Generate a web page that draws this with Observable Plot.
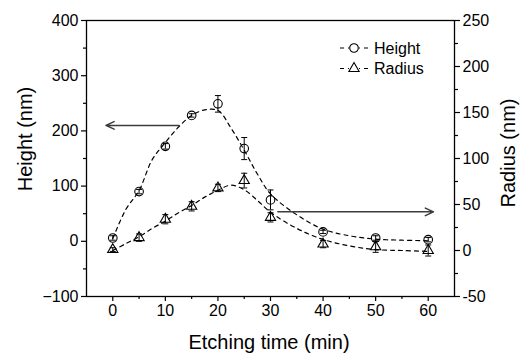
<!DOCTYPE html>
<html><head><meta charset="utf-8">
<script src="https://cdn.jsdelivr.net/npm/d3@7"></script>
<script src="https://cdn.jsdelivr.net/npm/@observablehq/plot@0.6"></script>
<style>
body{margin:0;background:#fff;}
#chart{position:relative;width:520px;height:355px;}
</style></head><body><div id="chart"></div>
<script>
// ---- data ----
const time = [0, 5, 10, 15, 20, 25, 30, 40, 50, 60];
const height = [6, 90, 172, 228, 249, 168, 75, 17, 6, 3];
const heightErr = [4, 4, 5, 3, 15, 20, 18, 3, 4, 4];
const radius = [1, 14, 34, 48, 68, 76, 36, 7, 4, 0];
const radiusErr = [2, 4, 5, 5, 4, 8, 5, 4, 6, 6];

const fitTime = [0, 2.5, 5, 7.5, 10, 12.5, 15, 17.5, 20, 22.5, 25, 27.5, 30, 35, 40, 45, 50, 55, 60];
const heightFit = [5, 58, 92, 148, 179, 207, 228, 238, 237, 205, 165, 122, 86, 48, 22, 10, 4, 2, 1];
const radiusFit = [0, 7.5, 15, 24, 32, 41, 49, 58, 65.5, 71, 66, 54.5, 41.6, 24, 12, 5, 1, 0, -1];

const xTicks = [0, 10, 20, 30, 40, 50, 60];
const xMinor = [5, 15, 25, 35, 45, 55];
const hTicks = [-100, 0, 100, 200, 300, 400];
const hMinor = [-50, 50, 150, 250, 350];
const rTicks = [-50, 0, 50, 100, 150, 200, 250];
const rMinor = [-25, 25, 75, 125, 175, 225];

// arrows: [x from, x to, value] (left arrow on Height axis, right arrow on Radius axis)
const arrowHeight = {x1: 12.6, x2: -1.3, value: 210};
const arrowRadius = {x1: 31.4, x2: 61, value: 42};

const legendLabels = ["Height", "Radius"];
const xLabel = "Etching time (min)";
const yLabel = "Height (nm)";
const y2Label = "Radius (nm)";

// ---- scale mapping for the secondary axis ----
const H0 = -100, H1 = 400, R0 = -50, R1 = 250;
const toH = r => H0 + (r - R0) * (H1 - H0) / (R1 - R0);
const fromH = h => Math.round(R0 + (h - H0) * (R1 - R0) / (H1 - H0));

const hPts = time.map((t, i) => ({t, v: height[i], lo: height[i] - heightErr[i], hi: height[i] + heightErr[i]}));
const rPts = time.map((t, i) => ({t, v: toH(radius[i]), lo: toH(radius[i] - radiusErr[i]), hi: toH(radius[i] + radiusErr[i])}));
const hFit = fitTime.map((t, i) => ({t, v: heightFit[i]}));
const rFit = fitTime.map((t, i) => ({t, v: toH(radiusFit[i])}));
const arrows = [
  {x1: arrowHeight.x1, x2: arrowHeight.x2, y: arrowHeight.value},
  {x1: arrowRadius.x1, x2: arrowRadius.x2, y: toH(arrowRadius.value)}
];

const cap = {draw(ctx, size) { const w = Math.sqrt(size / Math.PI); ctx.moveTo(-w, 0); ctx.lineTo(w, 0); }};

const font = "'Liberation Sans', Arial, Helvetica, sans-serif";
const dash = "4,4";

const plot = Plot.plot({
  width: 520, height: 355,
  marginTop: 20, marginRight: 66, marginBottom: 59, marginLeft: 86,
  style: {fontFamily: font, fontSize: "16px", background: "white", color: "black"},
  x: {domain: [-5, 65]},
  y: {domain: [H0, H1]},
  marks: [
    Plot.axisX({ticks: xTicks, tickSize: 5, tickPadding: 3, label: null, fontSize: 16, strokeWidth: 1.2}),
    Plot.axisX({ticks: xMinor, tickSize: 3, tickFormat: () => "", label: null, strokeWidth: 1.2}),
    Plot.axisY({ticks: hTicks, tickSize: 5, tickPadding: 3, label: null, fontSize: 16, strokeWidth: 1.2}),
    Plot.axisY({ticks: hMinor, tickSize: 3, tickFormat: () => "", label: null, strokeWidth: 1.2}),
    Plot.axisY({anchor: "right", ticks: rTicks.map(toH), tickFormat: fromH, tickSize: 5, tickPadding: 3, label: null, fontSize: 16, strokeWidth: 1.2}),
    Plot.axisY({anchor: "right", ticks: rMinor.map(toH), tickFormat: () => "", tickSize: 3, label: null, strokeWidth: 1.2}),
    Plot.line(hFit, {x: "t", y: "v", curve: "catmull-rom", stroke: "black", strokeWidth: 1.2, strokeDasharray: dash}),
    Plot.line(rFit, {x: "t", y: "v", curve: "catmull-rom", stroke: "black", strokeWidth: 1.2, strokeDasharray: dash}),
    Plot.arrow(arrows, {x1: "x1", x2: "x2", y1: "y", y2: "y", stroke: "#3c3c3c", strokeWidth: 1.5, headLength: 9, headAngle: 50}),
    Plot.ruleX(hPts, {x: "t", y1: "lo", y2: "hi", stroke: "black", strokeWidth: 1}),
    Plot.dot(hPts, {x: "t", y: "lo", symbol: cap, r: 3, stroke: "black", strokeWidth: 1}),
    Plot.dot(hPts, {x: "t", y: "hi", symbol: cap, r: 3, stroke: "black", strokeWidth: 1}),
    Plot.ruleX(rPts, {x: "t", y1: "lo", y2: "hi", stroke: "black", strokeWidth: 1}),
    Plot.dot(rPts, {x: "t", y: "lo", symbol: cap, r: 3, stroke: "black", strokeWidth: 1}),
    Plot.dot(rPts, {x: "t", y: "hi", symbol: cap, r: 3, stroke: "black", strokeWidth: 1}),
    Plot.dot(hPts, {x: "t", y: "v", symbol: "circle", r: 4.3, stroke: "black", fill: "none", strokeWidth: 1.1}),
    Plot.dot(rPts, {x: "t", y: "v", symbol: "triangle", r: 3.8, stroke: "black", fill: "none", strokeWidth: 1.1}),
    Plot.frame({stroke: "black", strokeWidth: 1.3})
  ]
});

const svg = d3.select(plot);
// axis titles
svg.append("text").attr("transform", "translate(25,139) rotate(-90)")
  .attr("text-anchor", "middle").attr("dominant-baseline", "central")
  .style("font-size", "20px").style("font-family", font).attr("fill", "black").text(yLabel);
svg.append("text").attr("transform", "translate(508,153) rotate(-90)")
  .attr("text-anchor", "middle").attr("dominant-baseline", "central")
  .style("font-size", "20px").style("font-family", font).attr("fill", "black").text(y2Label);
svg.append("text").attr("x", 269).attr("y", 342)
  .attr("text-anchor", "middle").attr("dominant-baseline", "central")
  .style("font-size", "20px").style("font-family", font).attr("fill", "black").text(xLabel);

// legend
const legendSymbols = [d3.symbolCircle, d3.symbolTriangle];
const legendSizes = [Math.PI * 4.3 * 4.3, Math.PI * 3.8 * 3.8];
legendLabels.forEach((lab, i) => {
  const cy = 48 + i * 20.5;
  const g = svg.append("g");
  g.append("line").attr("x1", 340).attr("x2", 371).attr("y1", cy).attr("y2", cy)
    .attr("stroke", "black").attr("stroke-width", 1.1).attr("stroke-dasharray", "4,4");
  g.append("rect").attr("x", 349).attr("y", cy - 5).attr("width", 10).attr("height", 10).attr("fill", "white");
  g.append("path").attr("d", d3.symbol(legendSymbols[i], legendSizes[i])()).attr("transform", `translate(354,${cy})`)
    .attr("fill", "none").attr("stroke", "black").attr("stroke-width", 1.1);
  g.append("text").attr("x", 374).attr("y", cy).attr("text-anchor", "start").attr("dominant-baseline", "central")
    .style("font-size", "16px").style("font-family", font).attr("fill", "black").text(lab);
});

document.getElementById("chart").appendChild(plot);
</script></body></html>
